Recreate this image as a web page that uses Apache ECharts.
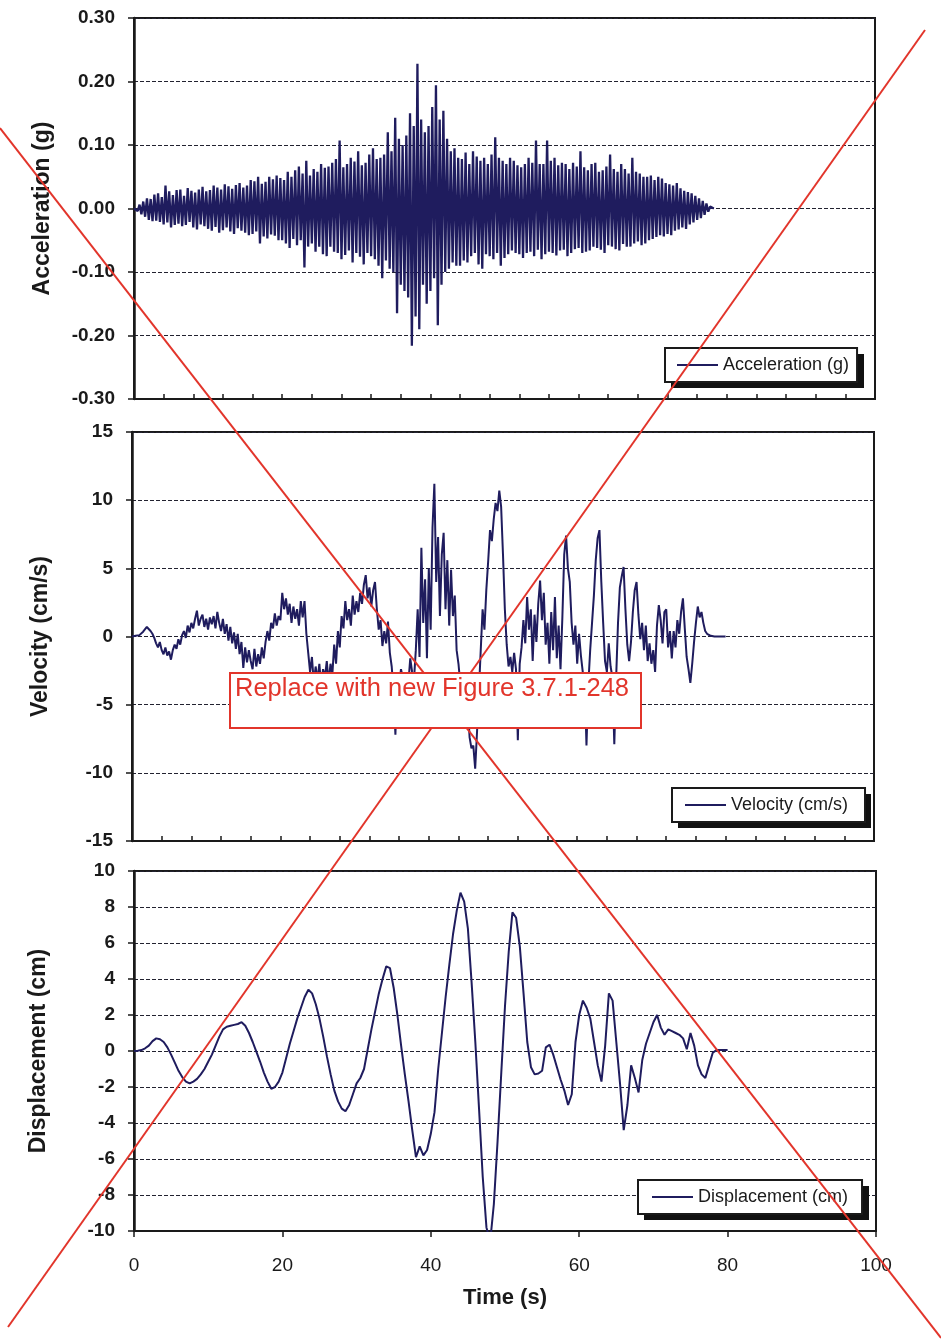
<!DOCTYPE html>
<html>
<head>
<meta charset="utf-8">
<title>Acceleration, velocity and displacement time histories</title>
<script src="https://cdn.jsdelivr.net/npm/echarts@6/dist/echarts.min.js"></script>
<style>
  html, body { margin: 0; padding: 0; background: #fff; }
  #chart { width: 941px; height: 1341px; }
</style>
</head>
<body>
<div id="chart"></div>
<script>
// Sampling steps (s) of the three records
const ACC_DT = 0.25;
const VEL_DT = 0.25;
const DISP_DT = 0.5;

// Acceleration (g), one row per second
const acceleration = [
  0, 0.002, -0.004, 0.006,
  -0.009, 0.011, -0.013, 0.016,
  -0.018, 0.015, -0.02, 0.022,
  -0.019, 0.024, -0.021, 0.018,
  -0.025, 0.036, -0.022, 0.027,
  -0.03, 0.021, -0.026, 0.029,
  -0.024, 0.03, -0.028, 0.02,
  -0.026, 0.032, -0.021, 0.028,
  -0.03, 0.025, -0.033, 0.03,
  -0.025, 0.034, -0.028, 0.027,
  -0.032, 0.029, -0.035, 0.036,
  -0.029, 0.033, -0.038, 0.03,
  -0.034, 0.038, -0.03, 0.035,
  -0.036, 0.031, -0.04, 0.037,
  -0.031, 0.04, -0.035, 0.033,
  -0.038, 0.036, -0.042, 0.045,
  -0.04, 0.043, -0.036, 0.05,
  -0.055, 0.039, -0.044, 0.042,
  -0.047, 0.05, -0.041, 0.046,
  -0.043, 0.052, -0.05, 0.048,
  -0.05, 0.045, -0.055, 0.058,
  -0.062, 0.05, -0.048, 0.06,
  -0.058, 0.066, -0.05, 0.055,
  -0.093, 0.075, -0.06, 0.052,
  -0.055, 0.062, -0.068, 0.058,
  -0.06, 0.07, -0.072, 0.064,
  -0.075, 0.066, -0.06, 0.072,
  -0.068, 0.078, -0.07, 0.107,
  -0.08, 0.065, -0.073, 0.07,
  -0.066, 0.08, -0.085, 0.074,
  -0.07, 0.09, -0.076, 0.068,
  -0.088, 0.072, -0.07, 0.085,
  -0.075, 0.095, -0.08, 0.078,
  -0.09, 0.08, -0.11, 0.085,
  -0.082, 0.12, -0.095, 0.09,
  -0.1, 0.143, -0.165, 0.11,
  -0.12, 0.1, -0.13, 0.115,
  -0.14, 0.15, -0.216, 0.13,
  -0.17, 0.228, -0.19, 0.14,
  -0.12, 0.12, -0.15, 0.13,
  -0.13, 0.16, -0.11, 0.194,
  -0.184, 0.14, -0.12, 0.154,
  -0.1, 0.11, -0.095, 0.09,
  -0.085, 0.095, -0.09, 0.08,
  -0.09, 0.078, -0.082, 0.088,
  -0.085, 0.07, -0.075, 0.09,
  -0.07, 0.082, -0.088, 0.075,
  -0.095, 0.08, -0.072, 0.07,
  -0.075, 0.085, -0.08, 0.112,
  -0.07, 0.08, -0.09, 0.075,
  -0.078, 0.07, -0.072, 0.08,
  -0.066, 0.075, -0.07, 0.068,
  -0.072, 0.065, -0.078, 0.07,
  -0.07, 0.08, -0.068, 0.072,
  -0.075, 0.107, -0.065, 0.07,
  -0.08, 0.07, -0.072, 0.107,
  -0.068, 0.075, -0.07, 0.08,
  -0.074, 0.068, -0.066, 0.072,
  -0.065, 0.07, -0.075, 0.062,
  -0.07, 0.072, -0.064, 0.066,
  -0.062, 0.09, -0.07, 0.065,
  -0.068, 0.06, -0.066, 0.07,
  -0.06, 0.072, -0.062, 0.058,
  -0.065, 0.06, -0.07, 0.066,
  -0.058, 0.085, -0.06, 0.062,
  -0.064, 0.058, -0.066, 0.07,
  -0.056, 0.062, -0.06, 0.055,
  -0.06, 0.08, -0.055, 0.058,
  -0.052, 0.055, -0.058, 0.05,
  -0.055, 0.05, -0.05, 0.052,
  -0.048, 0.045, -0.045, 0.05,
  -0.042, 0.047, -0.044, 0.04,
  -0.04, 0.038, -0.042, 0.036,
  -0.035, 0.04, -0.033, 0.032,
  -0.03, 0.028, -0.032, 0.026,
  -0.025, 0.024, -0.022, 0.02,
  -0.018, 0.016, -0.015, 0.012,
  -0.01, 0.008, -0.005, 0.003,
  0, 0
];

// Velocity (cm/s), one row per second
const velocity = [
  0, 0.1, 0.05, 0.15,
  0.1, 0.2, 0.35, 0.3,
  0.7, 0.6, 0.4, 0.2,
  -0.1, -0.5, -0.8, -0.4,
  -1.0, -1.3, -0.8, -1.4,
  -1.1, -1.7, -1.0, -0.6,
  -0.9, -0.2, -0.6, 0.1,
  0.4, -0.1, 0.8, 0.3,
  1.0, 0.6, 1.3, 1.9,
  0.8, 1.3, 1.6, 0.7,
  1.3, 0.5, 1.4, 0.9,
  1.5, 0.6, 1.8, 1.0,
  0.4, 1.3, 0.2, 0.9,
  -0.3, 0.7, -0.5, 0.3,
  -0.9, 0.2, -1.3, -0.4,
  -2.3, -0.8, -1.9, -1.0,
  -1.8, -2.4, -0.9, -2.2,
  -1.3, -2.0, -0.8, -1.6,
  -0.4, 0.4, -0.3, 1.0,
  0.6, 1.7, 0.8, 1.5,
  1.2, 3.2, 2.0, 2.8,
  1.6, 2.4, 1.0, 2.2,
  1.3, 2.0, 0.8, 2.6,
  1.4, 2.6, 0.2, -1.2,
  -2.6, -1.5, -3.4, -2.2,
  -3.2, -2.0, -3.6, -2.4,
  -3.0, -1.8, -3.4, -2.0,
  -2.8, -0.6, -2.0, 0.4,
  -0.8, 1.5, 0.6, 2.6,
  1.2, 2.0, 0.8, 3.0,
  1.6, 2.6, 1.8, 3.2,
  2.4, 3.8, 4.5, 2.8,
  3.6, 2.2, 3.4, 4.0,
  2.0, 0.5, 1.2, -0.7,
  0.4, -0.5, 1.1, -1.2,
  -2.2, -4.0, -7.2, -2.8,
  -3.6, -2.4, -3.0, -4.0,
  -2.8, -3.4, -1.6, -2.6,
  -3.2, -1.0, 2.0, -1.5,
  6.5, 1.0, 4.2, -1.6,
  5.0, 0.5, 8.0, 11.2,
  4.0, 7.3, 1.5, 6.0,
  7.6, 2.0, 5.6, 0.8,
  4.9, 1.5, 3.0, -1.0,
  -2.0, -3.5, -5.5, -4.2,
  -6.2, -5.0, -7.4, -8.2,
  -8.0, -9.7, -7.0, -4.0,
  -1.0, 2.0, 0.5, 3.4,
  5.5, 7.8, 7.0, 8.6,
  9.8, 9.2, 10.7, 9.5,
  6.0, 2.0, -0.6, -2.2,
  -1.5, -2.6, -1.2, -2.4,
  -7.6, -2.0, -0.8, 1.2,
  -0.5, 2.9, 0.5, 2.0,
  -1.8, 1.6, -0.4, 2.4,
  4.1, 1.2, 3.2, -0.6,
  1.0, -2.0, 1.8, -1.0,
  2.9, -1.6, 0.8, -2.4,
  1.4, 6.0, 7.4, 5.0,
  4.0, 1.0, -0.6, 0.8,
  -2.0, 0.2, -1.4, -2.6,
  -3.0, -8.0, -3.5, -1.0,
  1.0, 3.0, 5.6, 7.2,
  7.8, 4.0, 1.0, -1.8,
  -2.6, -0.5, -2.2, -3.0,
  -7.9, -3.0, 1.0, 3.6,
  4.4, 5.1, 2.0, -0.6,
  -1.8, -0.4, 1.8, 3.4,
  4.0, 1.6, -0.2, 1.0,
  -1.0, 0.8, -1.8, -0.5,
  -2.0, -1.0, -2.6, 0.8,
  2.3, 1.2, -0.5, 1.8,
  2.0, -0.8, 0.4, -1.6,
  0.4, -0.8, 1.2, 0.2,
  1.8, 2.8, 0.6, -1.5,
  -2.4, -3.4, -2.0, -0.4,
  1.0, 2.2, 1.4, 1.8,
  1.0, 0.4, 0.2, 0.1,
  0.05, 0, 0, 0,
  0, 0, 0, 0,
  0
];

// Displacement (cm), one row per 5 s
const displacement = [
  0, 0.02, 0.05, 0.15, 0.3, 0.55, 0.7, 0.65, 0.5, 0.2,
  -0.2, -0.65, -1.1, -1.45, -1.7, -1.8, -1.7, -1.55, -1.3, -1.0,
  -0.6, -0.2, 0.3, 0.8, 1.2, 1.35, 1.4, 1.45, 1.5, 1.6,
  1.4, 1.0, 0.5, -0.05, -0.6, -1.2, -1.7, -2.1, -2.0, -1.7,
  -1.2, -0.4, 0.4, 1.1, 1.8, 2.4, 3.0, 3.4, 3.2, 2.6,
  1.8, 0.8, -0.3, -1.3, -2.2, -2.8, -3.2, -3.35, -3.0, -2.4,
  -1.8, -1.5, -1.0, 0.1, 1.2, 2.2, 3.2, 4.0, 4.7, 4.6,
  3.5, 2.0, 0.3, -1.3, -2.8, -4.4, -5.9, -5.3, -5.8, -5.5,
  -4.6, -3.4, -1.0, 1.0, 3.0, 4.8, 6.5, 7.8, 8.8, 8.3,
  6.8, 3.8, 0.5, -3.2, -7.0, -9.8, -10.6, -8.5, -5.0, -1.2,
  2.5, 5.5, 7.7, 7.4, 5.8, 3.2, 0.5, -0.9, -1.3, -1.25,
  -1.1, 0.2, 0.35, -0.2, -0.9, -1.6, -2.2, -3.0, -2.4, 0.5,
  2.0, 2.8, 2.4, 1.8, 0.5, -0.8, -1.7, 0.3, 3.2, 2.8,
  0.5, -1.8, -4.4, -3.0, -0.8, -1.5, -2.3, -0.5, 0.4, 1.0,
  1.6, 2.0, 1.3, 0.9, 1.2, 1.1, 1.0, 0.9, 0.7, 0.1,
  1.0, 0.3, -0.8, -1.3, -1.5, -0.8, -0.1, 0.05, 0.05, 0.05,
  0.05
];

// Axis ranges and tick steps
const timeRange = [0, 100];
const accRange = [-0.3, 0.3, 0.1];
const velRange = [-15, 15, 5];
const dispRange = [-10, 10, 2];

const seriesNames = ['Acceleration (g)', 'Velocity (cm/s)', 'Displacement (cm)'];

function toPairs(values, dt) {
  return values.map((v, i) => [i * dt, v]);
}

const INK = '#1a1a1a';
const TRACE = '#1f1c5e';
const RED = '#e2352b';
const FONT = '"Liberation Sans", Arial, sans-serif';

function timeAxis(gridIndex, bottom) {
  const axis = {
    type: 'value', gridIndex: gridIndex,
    min: timeRange[0], max: timeRange[1],
    interval: bottom ? 20 : 4,
    axisLine: { show: true, onZero: false, lineStyle: { color: INK, width: 2 } },
    axisTick: { show: true, inside: !bottom, length: bottom ? 6 : 5, lineStyle: { color: INK, width: 1.5 } },
    axisLabel: { show: bottom, fontSize: 19, color: INK, margin: 25, fontFamily: FONT },
    splitLine: { show: false }
  };
  if (bottom) {
    axis.name = 'Time (s)';
    axis.nameLocation = 'middle';
    axis.nameGap = 56;
    axis.nameTextStyle = { fontSize: 22, fontWeight: 'bold', color: INK, fontFamily: FONT };
  }
  return axis;
}

function valueAxis(gridIndex, range, title, gap, formatter) {
  return {
    type: 'value', gridIndex: gridIndex,
    min: range[0], max: range[1], interval: range[2],
    name: title, nameLocation: 'middle', nameGap: gap,
    nameTextStyle: { fontSize: 23, fontWeight: 'bold', color: INK, fontFamily: FONT },
    axisLine: { show: true, lineStyle: { color: INK, width: 2.5 } },
    axisTick: { show: true, inside: false, length: 6, lineStyle: { color: INK, width: 1.5 } },
    axisLabel: { fontSize: 19, fontWeight: 'bold', color: INK, margin: 19, fontFamily: FONT, formatter: formatter },
    splitLine: { show: true, lineStyle: { color: '#222230', width: 1.2, type: [4, 2] } }
  };
}

function boxedLegend(name, left, top, padding) {
  return {
    data: [name], left: left, top: top, orient: 'horizontal',
    padding: padding, itemWidth: 41, itemHeight: 2, icon: 'rect',
    backgroundColor: '#fff', borderColor: INK, borderWidth: 2, borderRadius: 0,
    textStyle: { fontSize: 18, color: INK, fontFamily: FONT },
    selectedMode: false, z: 6
  };
}

function trace(name, index, data, width) {
  return {
    name: name, type: 'line', xAxisIndex: index, yAxisIndex: index,
    data: data, symbol: 'none', showSymbol: false,
    lineStyle: { color: TRACE, width: width },
    itemStyle: { color: TRACE },
    emphasis: { disabled: true }
  };
}

// hard drop shadows behind the three legend boxes
function legendShadow(x, y, w, h) {
  return { type: 'rect', z: 5, shape: { x: x + 6, y: y + 6, width: w, height: h }, style: { fill: '#111' } };
}

const chart = echarts.init(document.getElementById('chart'), null, { renderer: 'canvas' });

chart.setOption({
  animation: false,
  backgroundColor: '#fff',
  grid: [
    { left: 134, top: 18, width: 741, height: 381, show: true, borderColor: INK, borderWidth: 2 },
    { left: 132, top: 432, width: 742, height: 409, show: true, borderColor: INK, borderWidth: 2 },
    { left: 134, top: 871, width: 742, height: 360, show: true, borderColor: INK, borderWidth: 2 }
  ],
  xAxis: [timeAxis(0, false), timeAxis(1, false), timeAxis(2, true)],
  yAxis: [
    valueAxis(0, accRange, seriesNames[0], 80, v => v.toFixed(2)),
    valueAxis(1, velRange, seriesNames[1], 80, v => String(Math.round(v))),
    valueAxis(2, dispRange, seriesNames[2], 84, v => String(Math.round(v)))
  ],
  legend: [
    boxedLegend(seriesNames[0], 665, 348, [8, 8, 8, 12]),
    boxedLegend(seriesNames[1], 672, 788, [8, 17, 8, 13]),
    boxedLegend(seriesNames[2], 638, 1180, [8, 14, 8, 14])
  ],
  series: [
    trace(seriesNames[0], 0, toPairs(acceleration, ACC_DT), 2.3),
    trace(seriesNames[1], 1, toPairs(velocity, VEL_DT), 2),
    trace(seriesNames[2], 2, toPairs(displacement, DISP_DT), 2)
  ],
  graphic: [
    legendShadow(665, 348, 193, 34),
    legendShadow(672, 788, 193, 34),
    legendShadow(638, 1180, 225, 34),
    // lower panel overlaps the bottom of the velocity scale
    { type: 'rect', z: 50, shape: { x: 56, y: 849, width: 72, height: 10 }, style: { fill: '#fff' } },
    // strike-through cross
    { type: 'line', z: 100, shape: { x1: 0, y1: 128, x2: 941, y2: 1338 }, style: { stroke: RED, lineWidth: 2 } },
    { type: 'line', z: 100, shape: { x1: 8, y1: 1327, x2: 925, y2: 30 }, style: { stroke: RED, lineWidth: 2 } },
    // replacement note
    { type: 'rect', z: 110, shape: { x: 230, y: 673, width: 411, height: 55 }, style: { fill: '#fff', stroke: RED, lineWidth: 2 } },
    { type: 'text', z: 120, x: 235, y: 676, style: { text: 'Replace with new Figure 3.7.1-248', fill: RED, font: '25.5px "Liberation Sans", Arial, sans-serif' } }
  ]
});
</script>
</body>
</html>
